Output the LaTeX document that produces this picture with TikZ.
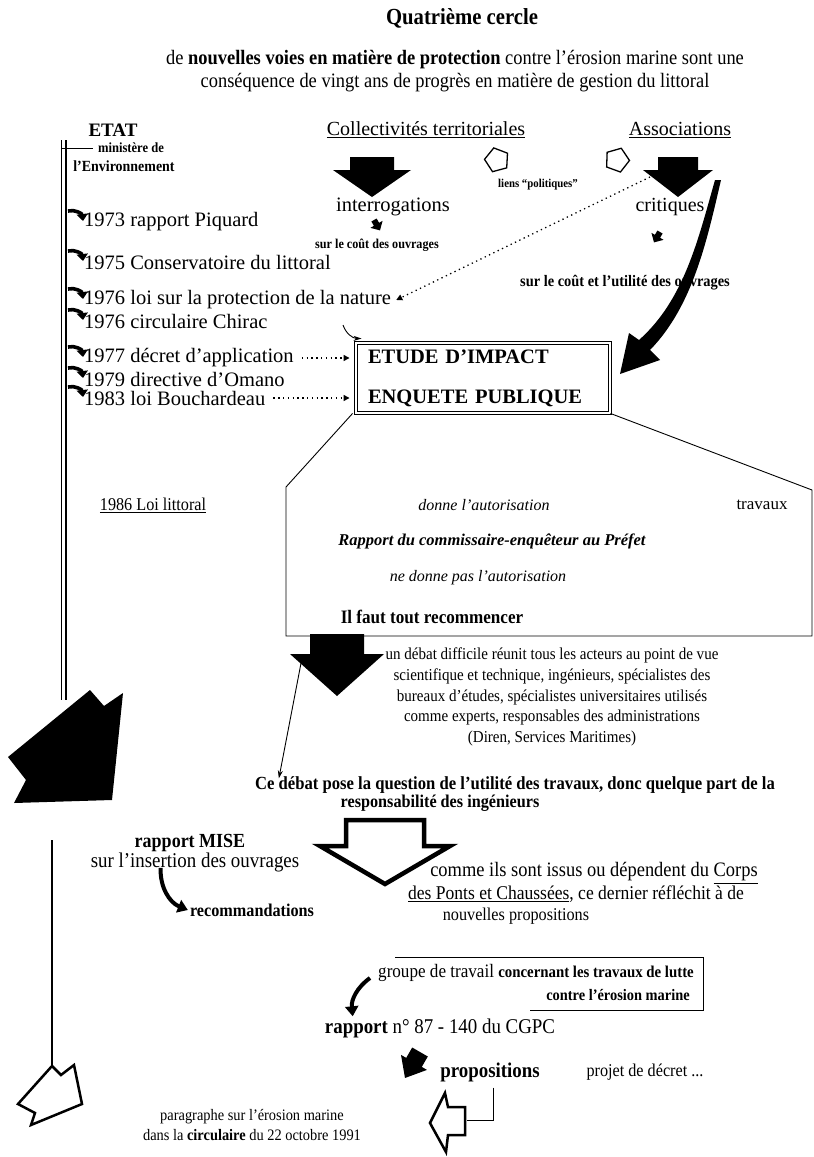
\documentclass[tikz,border=0pt]{standalone}
\usepackage{fontspec}
\setmainfont{Liberation Serif}
\newfontfamily\narrowfont[FakeStretch=0.9,Ligatures=TeX]{Liberation Serif}
\usepackage{xcolor}
\usepackage{tikz}
\usetikzlibrary{arrows.meta,positioning,calc,shapes.geometric}

\newcommand{\fsz}[2]{\fontsize{#1}{#2}\selectfont}

\tikzset{
  pics/blockdown/.style n args={4}{code={
    \fill (-#1,0) -- (#1,0) -- (#1,#2) -- (#3,#2) -- (0,#2+#4) -- (-#3,#2) -- (-#1,#2) -- cycle;}},
  pics/hollowdown/.style n args={4}{code={
    \draw[line width=4.5pt,fill=white,line join=miter] (-#1,0) -- (#1,0) -- (#1,#2) -- (#3,#2) -- (0,#2+#4) -- (-#3,#2) -- (-#1,#2) -- cycle;}},
}

\begin{document}
\begin{tikzpicture}[x=1pt,y=-1pt,
  every node/.style={inner sep=0pt,font=\fsz{20}{22}},
  nr/.style 2 args={font=\narrowfont\fsz{#1}{#2}},
  nb/.style 2 args={font=\narrowfont\bfseries\fsz{#1}{#2}},
  tick/.style={line width=3.6pt,-{Triangle[length=7pt,width=11pt]}},
  dotline/.style={line width=1.3pt,dash pattern=on 1.3pt off 3.5pt,-{Triangle[length=6pt,width=6pt]}},
  pointer/.style={line width=0.9pt,-{Stealth[length=8pt,width=5pt]}},
  blkcurve/.style={line width=4pt,-{Triangle[length=10pt,width=13pt]}},
  hollow/.style={draw,line width=2.5pt,fill=white,line join=miter},
  pent/.style={draw,line width=1.3pt,regular polygon,regular polygon sides=5,minimum size=25pt}]
\useasboundingbox (0,0) rectangle (814,1157);

% heading
\node[nb={23}{26}] (title) at (462,18) {Quatrième cercle};
\node[nr={20.5}{23},align=center] (intro) at (455,71) {de \textbf{nouvelles voies en matière de protection} contre l'érosion marine sont une\\conséquence de vingt ans de progrès en matière de gestion du littoral};

% the three actors
\node[font=\bfseries\fsz{19}{22}] (etat) at (113,130) {ETAT};
\node (coll) at (426,130) {\underline{Collectivités territoriales}};
\node (assoc) at (680,130) {\underline{Associations}};
\node[nb={14}{18}] (min1) at (131,148) {ministère de};
\node[nb={15.5}{18}] (min2) at (124,166) {l'Environnement};

% state line
\coordinate (s0) at (66,140);
\coordinate (s1) at (66,700);
\draw[line width=2.6pt] (s0) -- (s1);
\draw[line width=0.9pt] ([xshift=-4.5pt]s0) -- ([xshift=-4.5pt]s1);
\draw[line width=0.8pt] ([xshift=-4.5pt,yshift=-8pt]s0) -- ([xshift=-5pt]min1.west);

\foreach \nm/\yy/\txt in {t1/222/1973 rapport Piquard,t2/262/1975 Conservatoire du littoral,t3/300/1976 loi sur la protection de la nature,t4/321/1976 circulaire Chirac,t5/358/1977 décret d'application,t6/379/1979 directive d'Omano,t7/398/1983 loi Bouchardeau}{
  \node[anchor=west,font=\fsz{20.5}{22}] (\nm) at (84,\yy) {\txt};
  \draw[tick] ($(\nm.west -| s0)+(2,-11)$) to[bend left=50] ($(\nm.west)+(-1,-1)$);
}

% collectivites / associations
\pic at (372,157) {blockdown={22}{13}{39}{27}};
\pic at (678,157) {blockdown={20}{13}{35}{27}};
\node[pent,rotate=15] (pl) at (497,160) {};
\node[pent,rotate=-20] (pr) at (617,160) {};
\node[nb={12}{14}] (liens) at (538,185) {liens ``politiques''};

\node[font=\fsz{20.5}{22}] (interr) at (393,207) {interrogations};
\pic[rotate=30] at (374,220) {blockdown={3}{5}{7}{7}};
\node[nb={13.5}{16}] (cout1) at (377,245) {sur le coût des ouvrages};
\node (crit) at (670,207) {critiques};
\pic[rotate=-30] at (660,232) {blockdown={3}{5}{7}{7}};
\node[nb={16}{19}] (cout2) at (625,283) {sur le coût et l'utilité des ouvrages};

\coordinate (d0) at (650,177);
\draw[dotline] (d0) -- ([xshift=5pt]t3.east);

% big curved wedge
\fill (715,180) .. controls (698,240) and (684,300) .. (639,340) -- (629,333) -- (620,374) -- (660,360) -- (650,350) .. controls (693,306) and (707,240) .. (721,180) -- cycle;

% impact box
\node[draw,double,double distance=2.2pt,line width=0.9pt,text width=230pt,inner xsep=12pt,minimum height=70pt,align=left,font=\bfseries\fsz{20.5}{40}] (impact) at (483,378) {ETUDE D'IMPACT\\ENQUETE PUBLIQUE};
\draw[dotline] ([xshift=8pt]t5.east) -- ($(impact.west |- t5.east)+(-6,0)$);
\draw[dotline] ([xshift=8pt]t7.east) -- ($(impact.west |- t7.east)+(-6,0)$);
\coordinate (ch) at (343,325);
\draw[pointer] (ch) to[bend right=35] ($(impact.north west)+(6,-4)$);

% callout of the enquiry
\draw[line width=0.9pt] ($(impact.south west)+(-3,0)$) -- (286,487) |- (812,636) -- (812,490) -- (impact.south east);
\node[nr={18}{20}] (loi86) at (153,505) {\underline{1986 Loi littoral}};
\node[font=\itshape\fsz{16}{18}] (oui) at (484,505) {donne l'autorisation};
\node[font=\fsz{17}{20}] (trav) at (762,505) {travaux};
\node[font=\bfseries\itshape\fsz{16.5}{18}] (rap) at (492,541) {Rapport du commissaire-enquêteur au Préfet};
\node[font=\itshape\fsz{16}{18}] (non) at (478,578) {ne donne pas l'autorisation};
\node[nb={19}{20}] (redo) at (432,617) {Il faut tout recommencer};

% debate
\pic at (337,634) {blockdown={27}{20}{47}{42}};
\node[nr={16.7}{20.8},align=center] (debat) at (552,697) {un débat difficile réunit tous les acteurs au point de vue\\scientifique et technique, ingénieurs, spécialistes des\\bureaux d'études, spécialistes universitaires utilisés\\comme experts, responsables des administrations\\(Diren, Services Maritimes)};
\node[nb={18.5}{20}] (ce1) at (515,785) {Ce débat pose la question de l'utilité des travaux, donc quelque part de la};
\node[nb={18}{20}] (ce2) at (440,803) {responsabilité des ingénieurs};
\coordinate (bk) at (302,658);
\draw[pointer] (bk) -- ($(ce1.north west)+(24,2)$);

% left side, lower part
\fill (90,690) -- (104,706) -- (123,693) -- (112,800) -- (14,803) -- (26,780) -- (8,757) -- cycle;
\coordinate (s2) at (52,840);
\coordinate (s3) at (52,1066);
\draw[line width=1.2pt] (s2) -- (s3);

\pic at (385,820) {hollowdown={39}{26}{65}{38}};
\node[nb={20}{22}] (mise) at (190,843) {rapport MISE};
\node[nr={21}{22}] (ins) at (195,862) {sur l'insertion des ouvrages};
\node[nb={18}{20}] (reco) at (252,910) {recommandations};
\draw[blkcurve] ($(ins.south west)+(70,-4)$) to[bend right=35] ($(reco.west)+(-2,0)$);

\node[nr={20.5}{20}] (cp1) at (594,873) {comme ils sont issus ou dépendent du \underline{Corps}};
\node[nr={19.5}{20}] (cp2) at (576,894) {\underline{des Ponts et Chaussées}, ce dernier réfléchit à de};
\node[nr={18}{20}] (cp3) at (516,916) {nouvelles propositions};

% working group
\node[nr={19}{20},anchor=west] (grp) at (378,973) {groupe de travail {\bfseries\fsz{16.5}{15}concernant les travaux de lutte}};
\node[nb={16}{15}] (grp2) at (618,995) {contre l'érosion marine};
\draw[line width=1pt] (395,957) -- (703,957) -- (703,1010) -- (530,1010);
\node[nr={21}{20}] (n87) at (440,1028) {\textbf{rapport} n° 87 - 140 du CGPC};
\coordinate (g0) at (370,978);
\draw[blkcurve] (g0) to[bend right=30] ($(n87.north west)+(28,-2)$);

\pic[rotate=-30] at (420,1052) {blockdown={9}{12}{15}{18}};
\node[nb={21}{20}] (prop) at (490,1072) {propositions};
\node[nr={18}{20}] (decret) at (645,1072) {projet de décret ...};
\coordinate (hl) at (467,1120);
\draw[line width=1pt] ([xshift=3pt,yshift=-6pt]prop.south) |- (hl);
\draw[hollow] (445,1093) -- (448,1107) -- (465,1107) -- (465,1135) -- (448,1135) -- (446,1152) -- (430,1123) -- cycle;

\draw[hollow] (52,1066) -- (61,1075) -- (74,1065) -- (82,1104) -- (31,1125) -- (35,1113) -- (18,1104) -- cycle;
\node[nr={16}{20},align=center] (para) at (252,1125) {paragraphe sur l'érosion marine\\dans la \textbf{circulaire} du 22 octobre 1991};
\end{tikzpicture}
\end{document}
